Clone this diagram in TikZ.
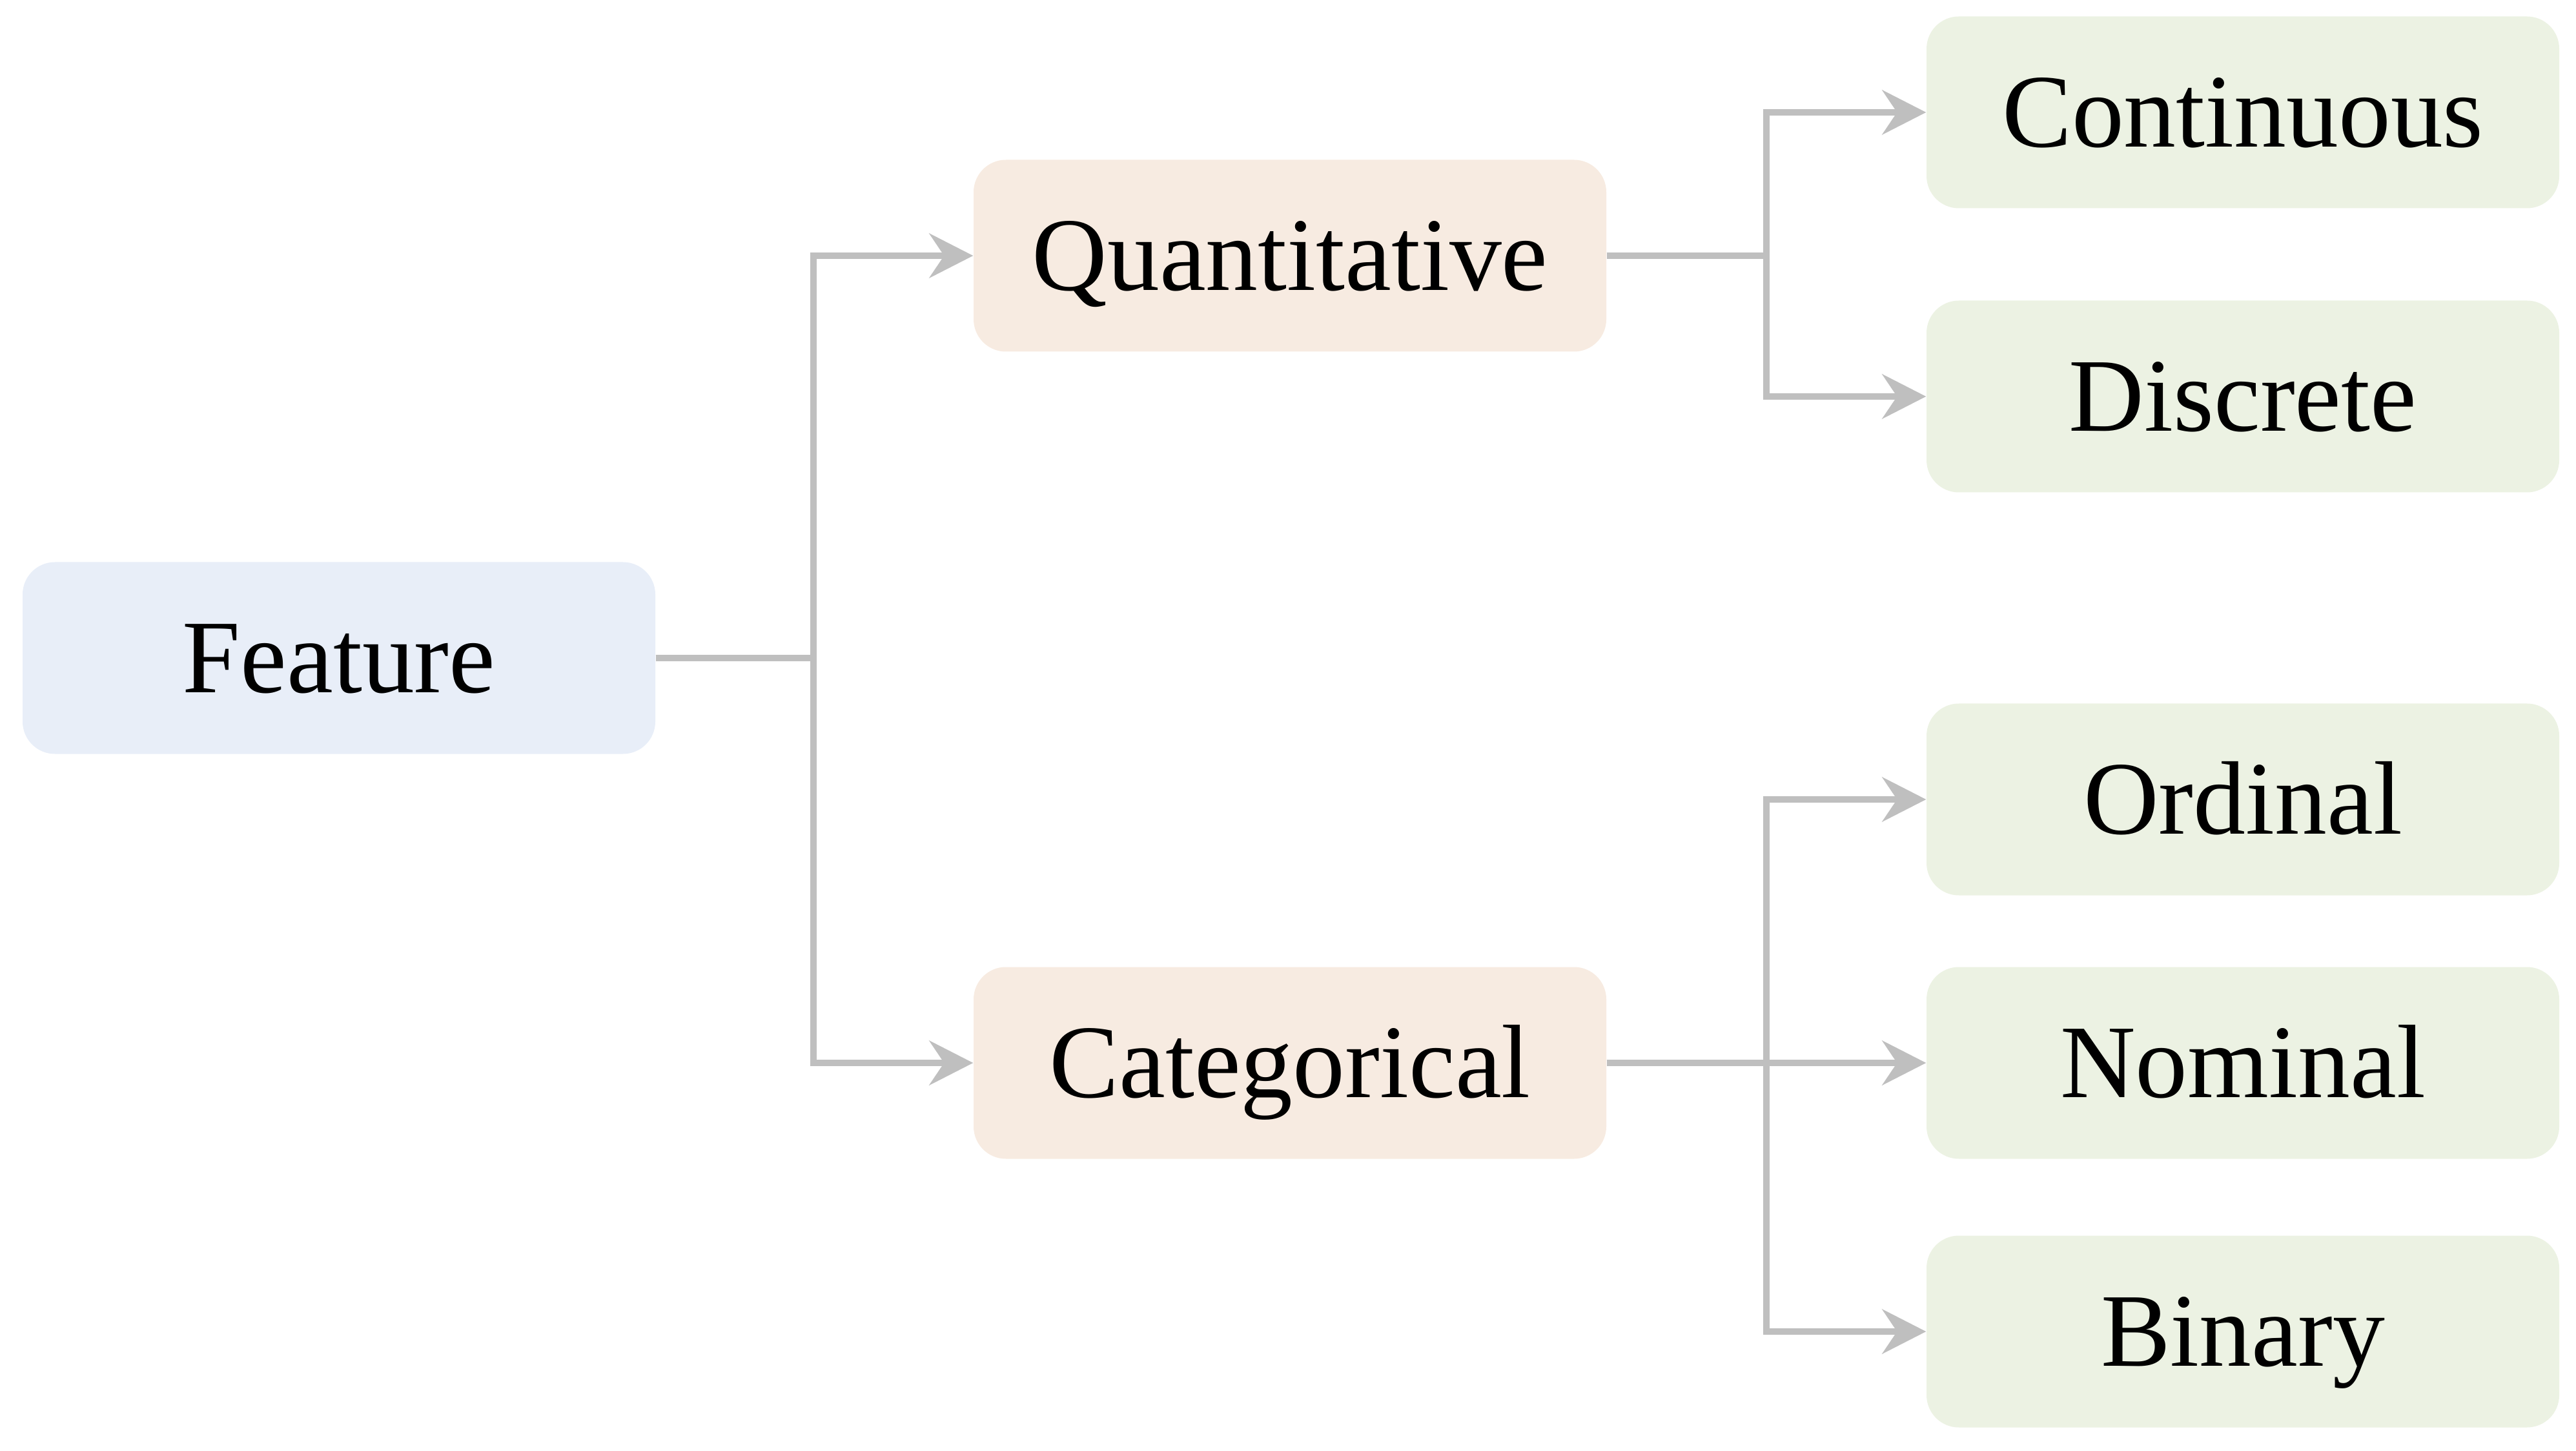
\documentclass[tikz,border=0pt]{standalone}
\usepackage{fontspec}
\setmainfont{Liberation Serif}
\usepackage{tikz}
\usetikzlibrary{arrows.meta}

\definecolor{featblue}{HTML}{E8EEF8}
\definecolor{typepeach}{HTML}{F7EBE1}
\definecolor{leafgreen}{HTML}{ECF2E3}
\definecolor{linegray}{HTML}{BFBFBF}

\begin{document}
\begin{tikzpicture}[
        box/.style={rounded corners=0.5cm, minimum width=9.8cm, minimum height=2.97cm,
            inner sep=0pt, font=\fontsize{46}{50}\selectfont, text height=30.4pt, text depth=0pt},
        conn/.style={draw=linegray, line width=2.6pt,
            -{Stealth[length=0.68cm, width=0.69cm, inset=0.23cm]}}
    ]
            \useasboundingbox (0, 0) rectangle (39.9, -22.47);
            % root
            \node[box, fill=featblue] (feat) at (5.25, -10.19) {Feature};
            % second level
            \node[box, fill=typepeach] (quan) at (19.98, -3.96) {Quantitative};
            \node[box, fill=typepeach] (cate) at (19.98, -16.46) {Categorical};
            % leaves
            \node[box, fill=leafgreen] (cont) at (34.74, -1.74) {Continuous};
            \node[box, fill=leafgreen] (disc) at (34.74, -6.14) {Discrete};
            \node[box, fill=leafgreen] (ordi) at (34.74, -12.38) {Ordinal};
            \node[box, fill=leafgreen] (nomi) at (34.74, -16.46) {Nominal};
            \node[box, fill=leafgreen] (bina) at (34.74, -20.62) {Binary};
            % junctions
            \coordinate (jfeat) at (12.6, -10.19);
            \coordinate (jquan) at (27.36, -3.96);
            \coordinate (jcate) at (27.36, -16.46);
            \draw[conn] (feat.east) -- (jfeat) |- (quan.west);
            \draw[conn] (feat.east) -- (jfeat) |- (cate.west);
            \draw[conn] (quan.east) -- (jquan) |- (cont.west);
            \draw[conn] (quan.east) -- (jquan) |- (disc.west);
            \draw[conn] (cate.east) -- (jcate) |- (ordi.west);
            \draw[conn] (cate.east) -- (nomi.west);
            \draw[conn] (cate.east) -- (jcate) |- (bina.west);
        \end{tikzpicture}
\end{document}
